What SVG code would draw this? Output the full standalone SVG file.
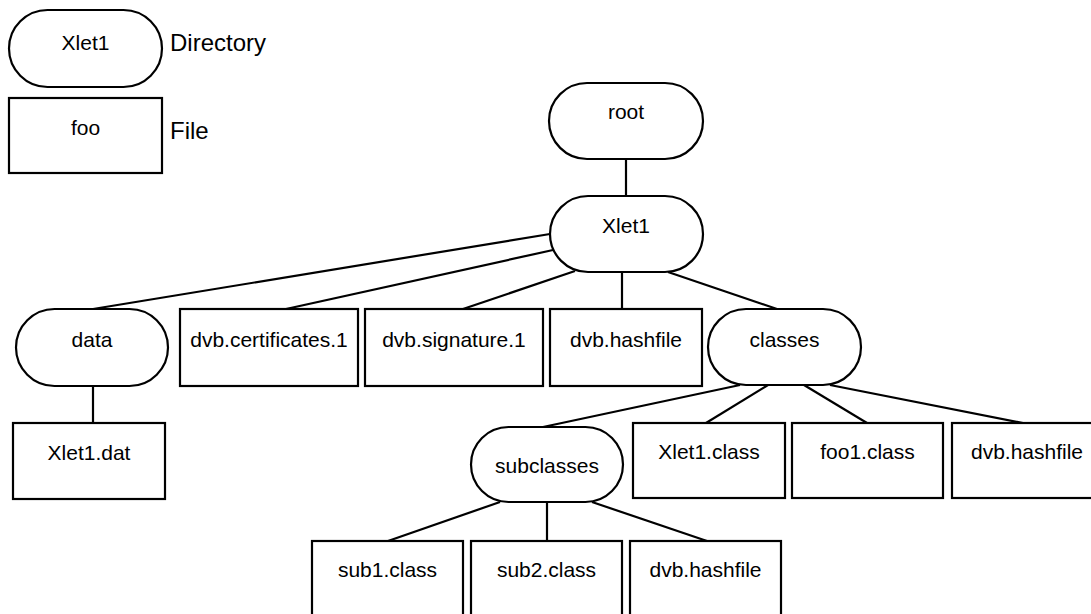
<svg xmlns="http://www.w3.org/2000/svg" width="1091" height="614" viewBox="0 0 1091 614">
<style>
.n{fill:#fff;stroke:#000;stroke-width:2.2}
.t{font-family:"Liberation Sans",Arial,sans-serif;font-size:21px;fill:#000;text-anchor:middle}
.lg{font-family:"Liberation Sans",Arial,sans-serif;font-size:24px;fill:#000}
.c line{stroke:#000;stroke-width:2.2}
</style>
<rect width="1091" height="614" fill="#fff"/>
<g id="connectors" class="c">
<line x1="626" y1="159" x2="626" y2="196"/>
<line x1="93" y1="309" x2="550" y2="234"/>
<line x1="286" y1="309" x2="553" y2="250"/>
<line x1="463" y1="309" x2="575" y2="271"/>
<line x1="622" y1="272" x2="622" y2="309"/>
<line x1="668" y1="272" x2="777" y2="309"/>
<line x1="93" y1="386" x2="93" y2="423"/>
<line x1="740" y1="385" x2="543" y2="427"/>
<line x1="768" y1="385" x2="706" y2="423"/>
<line x1="804" y1="385" x2="867" y2="423"/>
<line x1="830" y1="385" x2="1023" y2="423"/>
<line x1="500" y1="502" x2="388" y2="541"/>
<line x1="547" y1="502" x2="547" y2="541"/>
<line x1="592" y1="502" x2="707" y2="541"/>
</g>
<g id="legend-directory">
<rect class="n" x="9" y="10" width="153" height="77" rx="38.5"/>
<text class="t" x="85.5" y="50">Xlet1</text>
<text class="lg" x="170" y="51">Directory</text>
</g>
<g id="legend-file">
<rect class="n" x="9" y="98" width="153" height="75"/>
<text class="t" x="85.5" y="135">foo</text>
<text class="lg" x="170" y="139">File</text>
</g>
<g id="root">
<rect class="n" x="549" y="83" width="154" height="76" rx="38"/>
<text class="t" x="626" y="119">root</text>
</g>
<g id="xlet1">
<rect class="n" x="550" y="196" width="153" height="76" rx="38"/>
<text class="t" x="626" y="233">Xlet1</text>
</g>
<g id="data">
<rect class="n" x="16" y="309" width="152" height="77" rx="38.5"/>
<text class="t" x="92" y="347">data</text>
</g>
<g id="dvb-certificates">
<rect class="n" x="180" y="309" width="178" height="77"/>
<text class="t" x="269" y="347">dvb.certificates.1</text>
</g>
<g id="dvb-signature">
<rect class="n" x="365" y="309" width="178" height="77"/>
<text class="t" x="454" y="347">dvb.signature.1</text>
</g>
<g id="dvb-hashfile-1">
<rect class="n" x="550" y="309" width="152" height="77"/>
<text class="t" x="626" y="347">dvb.hashfile</text>
</g>
<g id="classes">
<rect class="n" x="708" y="309" width="153" height="76" rx="38"/>
<text class="t" x="784.5" y="347">classes</text>
</g>
<g id="xlet1-dat">
<rect class="n" x="13" y="423" width="152" height="76"/>
<text class="t" x="89" y="460">Xlet1.dat</text>
</g>
<g id="subclasses">
<rect class="n" x="471" y="427" width="152" height="75" rx="37.5"/>
<text class="t" x="547" y="473">subclasses</text>
</g>
<g id="xlet1-class">
<rect class="n" x="633" y="423" width="152" height="75"/>
<text class="t" x="709" y="459">Xlet1.class</text>
</g>
<g id="foo1-class">
<rect class="n" x="792" y="423" width="151" height="75"/>
<text class="t" x="867.5" y="459">foo1.class</text>
</g>
<g id="dvb-hashfile-2">
<rect class="n" x="952" y="423" width="150" height="75"/>
<text class="t" x="1027" y="459">dvb.hashfile</text>
</g>
<g id="sub1-class">
<rect class="n" x="312" y="541" width="151" height="76"/>
<text class="t" x="387.5" y="577">sub1.class</text>
</g>
<g id="sub2-class">
<rect class="n" x="471" y="541" width="151" height="76"/>
<text class="t" x="546.5" y="577">sub2.class</text>
</g>
<g id="dvb-hashfile-3">
<rect class="n" x="630" y="541" width="151" height="76"/>
<text class="t" x="705.5" y="577">dvb.hashfile</text>
</g>
</svg>
